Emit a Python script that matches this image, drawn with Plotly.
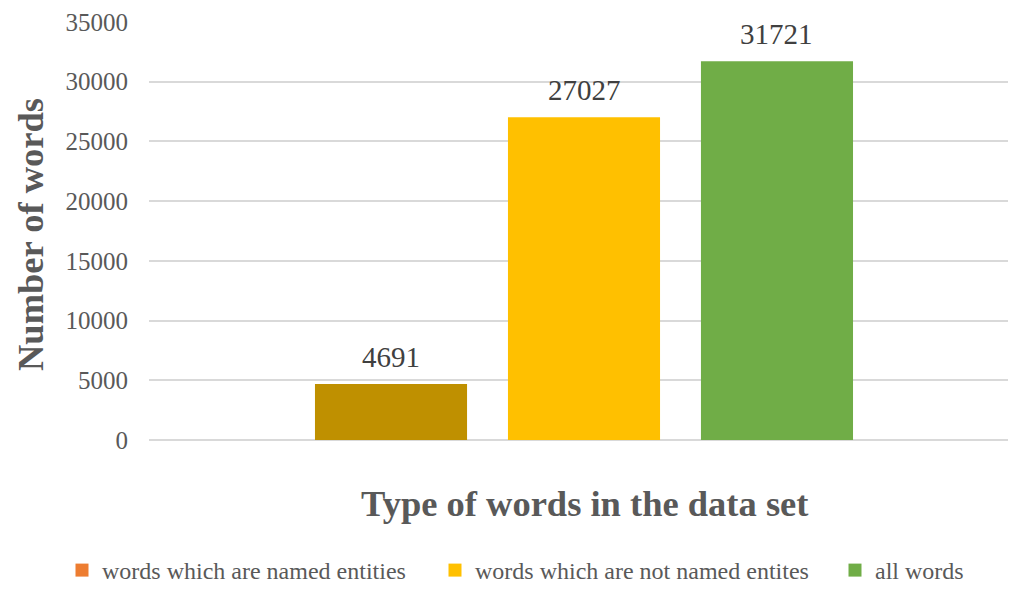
import plotly.graph_objects as go

categories = ["Words"]
series_names = ["words which are named entities", "words which are not named entites", "all words"]
series_values = [[4691], [27027], [31721]]
bar_colors = ["#BF9000", "#FFC000", "#70AD47"]
legend_colors = ["#ED7D31", "#FFC000", "#70AD47"]
y_ticks = [0, 5000, 10000, 15000, 20000, 25000, 30000, 35000]

FONT = "Liberation Serif, Times New Roman, serif"
W, H = 1009, 593
ML, MR, MT, MB = 149, 1, 22, 153
BARGAP = 0.326
PLOT_W = W - ML - MR
PLOT_H = H - MT - MB
X_RANGE = [-0.5064, 0.4936]

fig = go.Figure()
for name, vals, col in zip(series_names, series_values, bar_colors):
    fig.add_trace(go.Bar(
        x=categories, y=vals, name=name, marker=dict(color=col, line=dict(width=0)),
        showlegend=False, hoverinfo="y",
    ))

# value labels placed above each bar of the group
n = len(series_values)
slot_px = PLOT_W / (X_RANGE[1] - X_RANGE[0]) * (1 - BARGAP) / n
annotations = []
for i, vals in enumerate(series_values):
    for cat, v in zip(categories, vals):
        annotations.append(dict(
            x=cat, y=v, xref="x", yref="y", text=str(v), showarrow=False,
            xanchor="center", yanchor="bottom", xshift=(i - (n - 1) / 2) * slot_px, yshift=9,
            font=dict(family=FONT, size=29, color="#404040"),
        ))

legend_ids = ["legend", "legend2", "legend3"]
legend_x = [62, 435, 835]
for name, col, lid in zip(series_names, legend_colors, legend_ids):
    fig.add_trace(go.Scatter(
        x=[None], y=[None], mode="markers", name=name,
        marker=dict(symbol="square", size=13, color=col),
        showlegend=True, legend=lid,
    ))

legend_common = dict(orientation="h", yref="container", y=0, yanchor="bottom",
                     xref="container", xanchor="left",
                     font=dict(family=FONT, size=24, color="#595959"),
                     bgcolor="rgba(0,0,0,0)", itemwidth=30)

annotations += [
    dict(text="<b>Number of words</b>", xref="paper", yref="paper",
         x=-(ML - 30) / PLOT_W, y=1 - (235 - MT) / PLOT_H, textangle=-90,
         showarrow=False, xanchor="center", yanchor="middle",
         font=dict(family=FONT, size=36.5, color="#595959")),
    dict(text="<b>Type of words in the data set</b>", xref="paper", yref="paper",
         x=(584 - ML) / PLOT_W, y=-(504 - (H - MB)) / PLOT_H,
         showarrow=False, xanchor="center", yanchor="middle",
         font=dict(family=FONT, size=36.5, color="#595959")),
]

fig.update_layout(
    width=W, height=H,
    margin=dict(l=ML, r=MR, t=MT, b=MB),
    paper_bgcolor="white", plot_bgcolor="white",
    barmode="group", bargap=BARGAP, bargroupgap=0.212,
    font=dict(family=FONT, color="#595959"),
    legend=dict(legend_common, x=legend_x[0] / W),
    legend2=dict(legend_common, x=legend_x[1] / W),
    legend3=dict(legend_common, x=legend_x[2] / W),
    xaxis=dict(range=X_RANGE, showticklabels=False, showgrid=False,
               showline=False, zeroline=False, ticks=""),
    yaxis=dict(range=[0, 35000], tickvals=y_ticks, ticktext=[str(t) for t in y_ticks],
               showgrid=True, gridcolor="#D9D9D9", gridwidth=1.5,
               zeroline=True, zerolinecolor="#D9D9D9", zerolinewidth=1.5,
               showline=False, ticks="", ticklabelstandoff=20,
               tickfont=dict(family=FONT, size=25, color="#595959")),
    annotations=annotations,
)

fig.write_html("out.html")
